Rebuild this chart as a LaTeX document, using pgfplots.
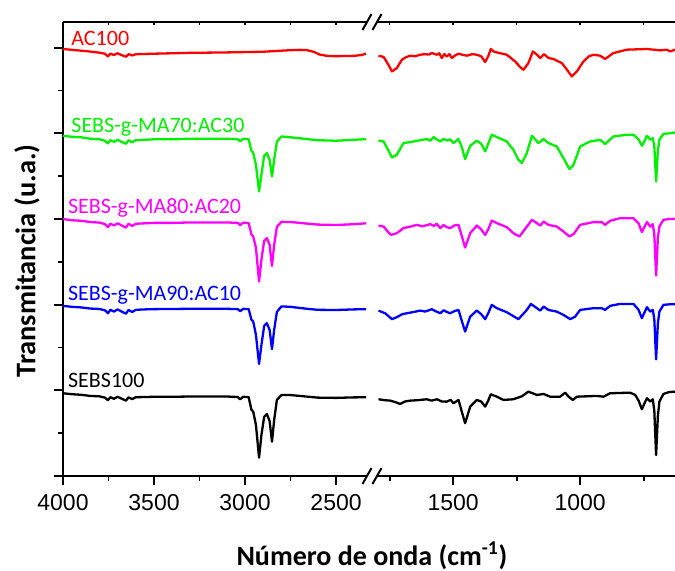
\documentclass[border=0pt]{standalone}
\usepackage{fontspec}
\setmainfont{Carlito}
\newfontfamily\arial{Liberation Sans}
\usepackage{pgfplots}
\pgfplotsset{compat=1.18}
\usetikzlibrary{calc}
\definecolor{sgreen}{RGB}{0,240,0}
\definecolor{smag}{RGB}{255,0,255}
\definecolor{sblue}{RGB}{0,0,255}
\definecolor{sred}{RGB}{255,0,0}

\pgfplotsset{
  ftir/.style={
    scale only axis, height=227pt,
    ymin=0, ymax=5.3,
    x dir=reverse,
    separate axis lines,
    axis line style={line width=1pt, black},
    tick style={line width=0.9pt, black},
    tick align=outside,
    major tick length=4.5pt, minor tick length=2.5pt,
    xtick pos=lower,
    xticklabel style={font=\arial\fontsize{11.5}{12}\selectfont, yshift=-1pt},
    /pgf/number format/assume math mode=true,
    /pgf/number format/1000 sep={},
    every axis plot/.append style={line width=1.15pt, line join=round, mark=none},
  },
  toptick/.style={
    scale only axis, height=227pt,
    ymin=0, ymax=5.3, x dir=reverse,
    axis x line*=top, axis y line=none,
    xticklabels={}, tick align=inside,
    major tick length=1.5pt,
    tick style={line width=0.8pt, black},
    axis line style={line width=1pt, black},
  },
}

\begin{document}
\begin{tikzpicture}
\path[use as bounding box] (-31.5pt,-47pt) rectangle (306pt,238pt);

% ---------- left segment 4000-2330 ----------
\begin{axis}[ftir, name=L, at={(0,0)}, anchor=south west, width=152pt,
    xmin=2330, xmax=4000,
    axis x line*=box, axis y line*=left,
    xtick={2500,3000,3500,4000}, minor xtick={2750,3250,3750},
    ytick={0,1,2,3,4,5}, minor ytick={0.5,1.5,2.5,3.5,4.5},
    yticklabels={}, ytick pos=left]

\addplot[sred] table {
4000 4.985
3950 4.975
3900 4.965
3850 4.955
3800 4.942
3770 4.930
3753 4.898
3740 4.930
3720 4.915
3700 4.935
3680 4.915
3654 4.895
3640 4.925
3620 4.910
3600 4.924
3500 4.930
3300 4.940
3100 4.945
2900 4.953
2760 4.970
2700 4.975
2660 4.972
2620 4.950
2590 4.920
2550 4.905
2500 4.901
2400 4.905
2360 4.915
2335 4.930
};

\addplot[sgreen] table {
4000 3.972
3950 3.960
3900 3.954
3850 3.937
3800 3.931
3770 3.914
3753 3.884
3740 3.920
3720 3.902
3700 3.925
3680 3.902
3654 3.879
3640 3.920
3620 3.896
3600 3.920
3550 3.925
3500 3.931
3400 3.931
3300 3.937
3200 3.937
3100 3.937
3040 3.931
3027 3.908
3010 3.937
2980 3.931
2965 3.797
2955 3.773
2940 3.633
2923 3.321
2910 3.516
2895 3.738
2880 3.770
2865 3.692
2852 3.497
2840 3.692
2825 3.902
2800 3.964
2750 3.954
2700 3.943
2650 3.931
2600 3.920
2500 3.914
2400 3.925
2335 3.933
};

\addplot[smag] table {
4000 3.000
3950 2.985
3900 2.980
3850 2.965
3800 2.958
3770 2.942
3753 2.905
3740 2.945
3720 2.925
3700 2.950
3680 2.928
3654 2.900
3640 2.945
3620 2.920
3600 2.945
3550 2.950
3500 2.955
3400 2.955
3300 2.960
3200 2.960
3100 2.960
3040 2.955
3027 2.930
3010 2.958
2980 2.952
2965 2.820
2955 2.796
2940 2.664
2923 2.270
2910 2.523
2895 2.745
2880 2.777
2865 2.699
2852 2.453
2840 2.699
2825 2.909
2800 2.967
2750 2.965
2700 2.955
2650 2.945
2600 2.935
2500 2.930
2400 2.940
2335 2.950
};

\addplot[sblue] table {
4000 1.986
3950 1.975
3900 1.968
3850 1.955
3800 1.950
3770 1.935
3753 1.900
3740 1.940
3720 1.920
3700 1.945
3680 1.922
3654 1.895
3640 1.938
3620 1.915
3600 1.940
3550 1.945
3500 1.948
3400 1.950
3300 1.952
3200 1.952
3100 1.952
3040 1.948
3027 1.925
3010 1.952
2980 1.948
2965 1.825
2955 1.803
2940 1.647
2923 1.308
2910 1.530
2895 1.752
2880 1.784
2865 1.706
2852 1.480
2840 1.706
2825 1.916
2800 1.980
2750 1.975
2700 1.962
2650 1.950
2600 1.940
2500 1.938
2400 1.945
2335 1.948
};

\addplot[black] table {
4000 0.966
3950 0.955
3900 0.948
3850 0.935
3800 0.930
3770 0.915
3753 0.885
3740 0.920
3720 0.902
3700 0.925
3680 0.905
3654 0.880
3640 0.918
3620 0.898
3600 0.920
3550 0.922
3500 0.925
3400 0.925
3300 0.928
3200 0.928
3100 0.928
3040 0.922
3027 0.895
3010 0.925
2980 0.920
2965 0.775
2955 0.751
2940 0.596
2923 0.214
2910 0.479
2895 0.689
2880 0.724
2865 0.643
2852 0.401
2840 0.654
2825 0.888
2800 0.946
2750 0.945
2700 0.935
2650 0.925
2600 0.915
2500 0.912
2400 0.918
2335 0.919
};

\begin{scope}[every node/.style={anchor=base west, inner sep=0pt, font=\fontsize{11}{12}\selectfont}]
\node[text=sred]   at (axis cs:3956,5.027) {AC100};
\node[text=sgreen] at (axis cs:3956,4.011) {SEBS-g-MA70:AC30};
\node[text=smag]   at (axis cs:3974,3.061) {SEBS-g-MA80:AC20};
\node[text=sblue]  at (axis cs:3974,2.044) {SEBS-g-MA90:AC10};
\node[text=black]  at (axis cs:3974,1.032) {SEBS100};
\end{scope}
\end{axis}

\begin{axis}[toptick, at={(0,0)}, anchor=south west, width=152pt,
    xmin=2330, xmax=4000, xtick={2500,2750,...,4000}]
\end{axis}

% ---------- right segment 1800-625 ----------
\begin{axis}[ftir, name=R, at={(157pt,0)}, anchor=south west, width=149.2pt,
    xmin=625, xmax=1800,
    axis x line*=box, axis y line=none,
    xtick={1000,1500}, minor xtick={750,1250,1750}]

\addplot[sred] table {
1794 4.907
1774 4.892
1755 4.800
1741 4.723
1722 4.762
1702 4.860
1685 4.890
1669 4.907
1650 4.900
1630 4.918
1610 4.925
1595 4.920
1584 4.938
1564 4.918
1555 4.935
1545 4.880
1535 4.925
1525 4.898
1515 4.925
1505 4.880
1490 4.915
1479 4.930
1460 4.915
1446 4.907
1425 4.925
1407 4.918
1390 4.900
1374 4.833
1362 4.900
1352 4.985
1340 4.955
1328 4.945
1289 4.918
1256 4.840
1235 4.770
1223 4.743
1204 4.820
1186 4.957
1170 4.918
1157 4.880
1142 4.925
1125 4.880
1105 4.868
1072 4.820
1052 4.743
1033 4.665
1013 4.723
987 4.840
965 4.900
948 4.918
921 4.907
902 4.868
869 4.938
816 4.977
737 4.985
685 4.969
659 4.977
646 4.957
626 4.977
};

\addplot[sgreen] table {
1794 3.917
1774 3.905
1755 3.800
1741 3.719
1722 3.750
1696 3.887
1675 3.895
1656 3.905
1630 3.920
1604 3.933
1590 3.915
1577 3.957
1565 3.930
1551 3.905
1538 3.935
1525 3.917
1512 3.930
1499 3.887
1479 3.933
1465 3.830
1453 3.700
1433 3.855
1407 3.914
1390 3.880
1374 3.789
1362 3.880
1348 3.984
1328 3.957
1289 3.905
1263 3.808
1245 3.700
1230 3.653
1210 3.770
1190 3.972
1164 3.887
1144 3.933
1125 3.887
1092 3.847
1066 3.712
1042 3.583
1026 3.633
1000 3.847
961 3.905
921 3.925
902 3.875
869 3.964
816 3.984
790 3.984
770 3.930
757 3.855
745 3.920
737 3.972
724 3.925
714 3.945
708 3.850
701 3.438
694 3.800
688 3.925
672 3.995
650 4.000
626 4.011
};

\addplot[smag] table {
1794 2.924
1774 2.912
1760 2.860
1745 2.815
1722 2.835
1696 2.894
1670 2.910
1643 2.932
1620 2.915
1591 2.940
1575 2.920
1565 2.945
1551 2.894
1538 2.930
1525 2.905
1512 2.894
1495 2.925
1479 2.932
1465 2.790
1453 2.667
1433 2.835
1407 2.924
1390 2.880
1374 2.815
1362 2.880
1348 2.982
1328 2.952
1289 2.905
1263 2.835
1239 2.796
1210 2.912
1190 2.991
1157 2.924
1144 2.971
1125 2.932
1092 2.912
1066 2.854
1042 2.796
1026 2.824
1000 2.932
948 2.964
915 2.964
902 2.932
882 2.979
843 3.010
790 3.010
770 2.950
757 2.847
745 2.920
737 2.964
724 2.912
714 2.940
708 2.820
701 2.340
694 2.780
688 2.912
672 2.991
650 3.000
626 3.002
};

\addplot[sblue] table {
1794 1.931
1768 1.900
1741 1.831
1722 1.854
1700 1.890
1682 1.900
1655 1.915
1630 1.931
1610 1.920
1584 1.947
1570 1.925
1551 1.900
1538 1.935
1525 1.915
1512 1.900
1495 1.925
1479 1.939
1465 1.800
1453 1.686
1433 1.861
1407 1.931
1390 1.890
1374 1.831
1362 1.900
1348 1.998
1328 1.959
1289 1.912
1243 1.831
1210 1.939
1194 2.009
1157 1.931
1144 1.978
1125 1.939
1092 1.919
1066 1.881
1039 1.831
1020 1.860
1000 1.939
948 1.959
915 1.959
902 1.939
882 1.986
843 2.009
790 2.009
770 1.940
757 1.842
745 1.920
737 1.971
724 1.919
714 1.939
708 1.830
701 1.363
694 1.780
688 1.919
672 1.998
650 2.004
626 2.006
};

\addplot[black] table {
1794 0.896
1770 0.885
1748 0.880
1725 0.860
1709 0.841
1690 0.870
1669 0.880
1640 0.885
1604 0.896
1585 0.880
1564 0.896
1545 0.870
1525 0.868
1510 0.890
1499 0.849
1479 0.888
1465 0.740
1453 0.616
1433 0.810
1407 0.888
1390 0.870
1374 0.810
1362 0.880
1352 0.954
1328 0.926
1302 0.888
1263 0.896
1230 0.930
1204 0.985
1170 0.946
1144 0.958
1118 0.926
1079 0.926
1059 0.973
1045 0.925
1029 0.888
1013 0.926
934 0.935
908 0.926
882 0.966
803 0.973
783 0.946
770 0.880
757 0.779
745 0.860
737 0.908
724 0.868
714 0.896
708 0.760
701 0.245
694 0.700
688 0.868
672 0.958
650 0.980
626 0.985
};
\end{axis}

\begin{axis}[toptick, at={(157pt,0)}, anchor=south west, width=149.2pt,
    xmin=625, xmax=1800, xtick={750,1000,...,1750}]
\end{axis}

% axis break marks
\foreach \yy in {0pt,227pt}{
  \fill[white] (152pt,\yy-1pt) rectangle (157pt,\yy+1pt);
  \draw[line width=1pt] (152pt-2.25pt,\yy-4pt) -- (152pt+2.25pt,\yy+4pt);
  \draw[line width=1pt] (157pt-2.25pt,\yy-4pt) -- (157pt+2.25pt,\yy+4pt);
}

% axis titles
\node[rotate=90, font=\bfseries\fontsize{14.2}{16}\selectfont] at (-18pt,107.5pt) {Transmitancia (u.a.)};
\node[anchor=base, font=\bfseries\fontsize{14}{16}\selectfont] at (154.5pt,-44.5pt) {Número de onda (cm\textsuperscript{-1})};
\end{tikzpicture}
\end{document}
